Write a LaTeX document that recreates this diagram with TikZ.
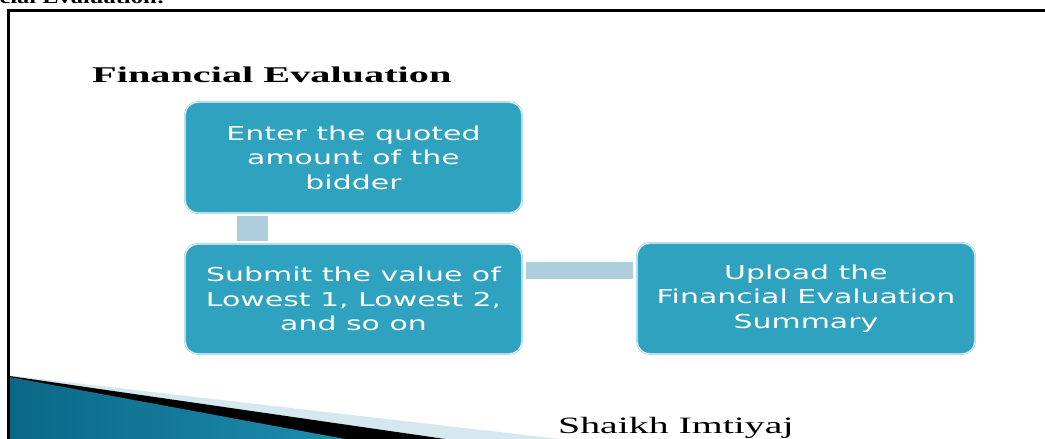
\documentclass[tikz,border=0pt]{standalone}
\usepackage{fontspec}
\newfontfamily\boxfont[FakeStretch=1.56]{DejaVu Sans}
\newfontfamily\titlefont[FakeStretch=1.79]{Liberation Serif}
\newfontfamily\authfont[FakeStretch=1.70]{Liberation Serif}
\newfontfamily\topfont[FakeStretch=1.36]{Liberation Serif}
\definecolor{boxfill}{RGB}{46,162,191}
\definecolor{boxedge}{RGB}{140,205,225}
\definecolor{barcol}{RGB}{174,206,221}
\definecolor{lightband}{RGB}{213,232,240}
\definecolor{tealdark}{RGB}{10,104,133}
\definecolor{teallight}{RGB}{80,180,214}
\definecolor{tealmid}{RGB}{30,140,175}
\tikzset{
  stepbox/.style={draw=boxedge, double=white, double distance=0.7pt, line width=0.6pt,
    fill=boxfill, rounded corners=13pt, minimum width=337pt, minimum height=111pt,
    inner sep=0pt, align=center, text=white,
    font=\boxfont\fontsize{19.2}{24.5}\selectfont},
  barline/.style={draw=barcol, line cap=butt},
  frameline/.style={draw=black, line width=2.5pt}
}
\begin{document}
\begin{tikzpicture}[x=1pt,y=1pt]
\useasboundingbox (0,0) rectangle (1045,439);
\clip (0,0) rectangle (1045,439);
\fill[white] (0,0) rectangle (1045,439);

% bottom-left swoosh
\fill[lightband] (9.5,63.5) -- (560,0) -- (9.5,0) -- cycle;
\fill[black] (9.5,63) -- (445,0) -- (9.5,0) -- cycle;
\shade[left color=tealdark, middle color=teallight, right color=tealmid, shading angle=90]
  (9.5,62) -- (345,0) -- (9.5,0) -- cycle;

% frame
\draw[frameline] (8.5,0) -- (8.5,428.3) -- (1046,428.3);

% top cut text
\node[anchor=base east, inner sep=0pt, font=\topfont\bfseries\fontsize{18}{20}\selectfont] (toptext) at (165,435) {cial Evaluation:};

% title
\node[anchor=base west, inner sep=0pt, font=\titlefont\bfseries\fontsize{22.5}{26}\selectfont] (title) at (92,356.7) {Financial Evaluation};

% boxes
\node[stepbox] (b1) at (353.5,281.5) {Enter the quoted\\amount of the\\bidder};
\node[stepbox, minimum height=110pt] (b2) at (353.5,140) {Submit the value of\\Lowest 1, Lowest 2,\\and so on};
\node[stepbox, minimum width=338pt] (b3) at (806,140.5) {Upload the\\Financial Evaluation\\Summary};

% connectors
\draw[barline, line width=31pt, shorten <=3pt, shorten >=3pt]
  ([xshift=67.5pt]b1.south west) -- ([xshift=67.5pt]b2.north west);
\coordinate (h1) at ([xshift=4pt,yshift=-26.5pt]b2.north east);
\draw[barline, line width=17pt, shorten >=4pt] (h1) -- (h1 -| b3.west);

% author
\node[anchor=base west, inner sep=0pt, font=\authfont\fontsize{23.4}{26}\selectfont] (author) at (558,5.7) {Shaikh Imtiyaj};
\end{tikzpicture}
\end{document}
